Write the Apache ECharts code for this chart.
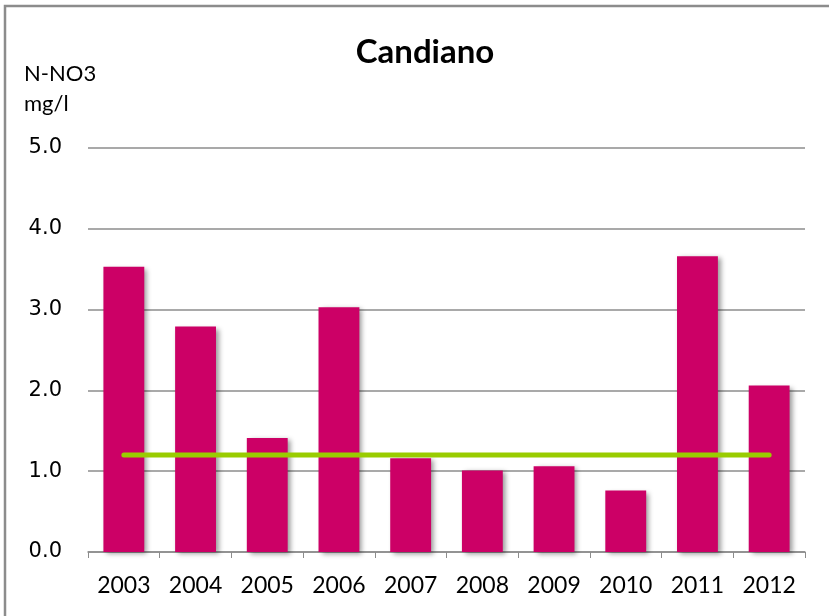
<!DOCTYPE html>
<html>
<head>
<meta charset="utf-8">
<script src="https://cdn.jsdelivr.net/npm/echarts@6/dist/echarts.min.js"></script>
<style>
  html, body { margin: 0; padding: 0; background: #fff; }
  #chart { width: 829px; height: 616px; }
</style>
</head>
<body>
<div id="chart"></div>
<script>
// anni e concentrazioni medie N-NO3 (mg/l)
const years = ['2003', '2004', '2005', '2006', '2007', '2008', '2009', '2010', '2011', '2012']
const no3Values = [3.53, 2.79, 1.41, 3.03, 1.16, 1.01, 1.06, 0.76, 3.66, 2.06]
const refValues = [1.2, 1.2, 1.2, 1.2, 1.2, 1.2, 1.2, 1.2, 1.2, 1.2]
const yTicks = [0, 1, 2, 3, 4, 5]

const myChart = echarts.init(document.getElementById('chart'))
myChart.setOption({
  animation: false,
  title: {
    text: 'Candiano',
    left: 420,
    top: 31,
    textAlign: 'center',
    textStyle: { fontFamily: 'Lato', fontSize: 33, fontWeight: 'bold', color: '#000' }
  },
  graphic: [
    {
      type: 'polyline',
      shape: { points: [[5, 616], [5, 6], [829, 6]] },
      style: { stroke: '#8c8c8c', lineWidth: 2.5, fill: null }
    },
    {
      type: 'text',
      left: 24,
      top: 59,
      style: { text: 'N-NO3\nmg/l', fontFamily: 'Lato', fontSize: 22, lineHeight: 30, fill: '#000' }
    }
  ],
  grid: { left: 88, right: 24, top: 148, bottom: 64 },
  xAxis: {
    type: 'category',
    data: years,
    boundaryGap: true,
    axisLine: { lineStyle: { color: '#8c8c8c', width: 1.5 } },
    axisTick: { show: true, length: 6, lineStyle: { color: '#8c8c8c' } },
    axisLabel: { fontFamily: 'Lato', fontSize: 23, color: '#000', margin: 22 }
  },
  yAxis: {
    type: 'value',
    min: yTicks[0],
    max: yTicks[yTicks.length - 1],
    interval: 1,
    axisLine: { show: false },
    axisTick: { show: false },
    splitLine: { lineStyle: { color: '#8c8c8c', width: 1.5 } },
    axisLabel: {
      fontFamily: 'DejaVu Sans',
      fontSize: 21,
      color: '#000',
      margin: 26,
      formatter: v => v.toFixed(1)
    }
  },
  series: [
    {
      type: 'bar',
      data: no3Values,
      barWidth: '57%',
      itemStyle: {
        color: '#cc0066',
        shadowColor: 'rgba(0,0,0,0.4)',
        shadowBlur: 5,
        shadowOffsetX: 3,
        shadowOffsetY: 2
      }
    },
    {
      type: 'line',
      data: refValues,
      symbol: 'none',
      z: 5,
      lineStyle: { color: '#99cc00', width: 5, cap: 'round' }
    }
  ]
})
</script>
</body>
</html>
